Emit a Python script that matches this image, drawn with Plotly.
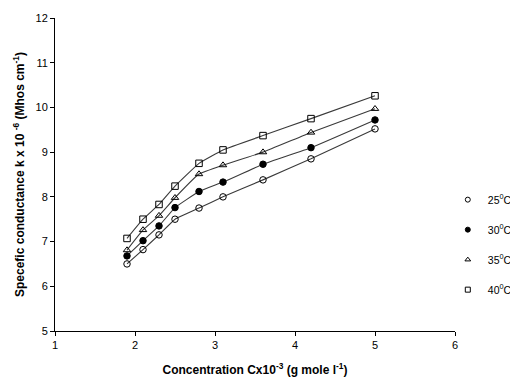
import plotly.graph_objects as go

conc = [1.9, 2.1, 2.3, 2.5, 2.8, 3.1, 3.6, 4.2, 5.0]
k25 = [6.50, 6.82, 7.15, 7.50, 7.75, 8.00, 8.38, 8.85, 9.52]
k30 = [6.68, 7.02, 7.35, 7.76, 8.12, 8.33, 8.73, 9.10, 9.72]
k35 = [6.81, 7.26, 7.58, 7.98, 8.51, 8.71, 9.00, 9.44, 9.97]
k40 = [7.07, 7.50, 7.83, 8.24, 8.75, 9.05, 9.37, 9.75, 10.26]

series = [
    ("25<sup>0</sup>C", k25, "circle-open"),
    ("30<sup>0</sup>C", k30, "circle"),
    ("35<sup>0</sup>C", k35, "triangle-up-open"),
    ("40<sup>0</sup>C", k40, "square-open"),
]

fig = go.Figure()
for i, (name, vals, sym) in enumerate(series):
    fig.add_trace(go.Scatter(
        x=conc, y=vals, name=name, mode="lines+markers",
        line=dict(color="#3a3a3a", width=1.1, shape="spline", smoothing=0.3),
        marker=dict(symbol=sym, size=6.5, color="black", line=dict(color="black", width=1)),
        showlegend=False,
    ))
for i, (name, vals, sym) in enumerate(series):
    fig.add_trace(go.Scatter(
        x=[None], y=[None], name=name, mode="markers",
        marker=dict(symbol=sym, size=5, color="black", line=dict(color="black", width=1)),
        legendgroup=f"g{i}", showlegend=True,
    ))

font = "Liberation Sans, Arial, sans-serif"
fig.update_layout(
    width=510, height=377,
    margin=dict(l=47, r=63, t=10, b=54, autoexpand=False),
    paper_bgcolor="white", plot_bgcolor="white",
    font=dict(family=font, size=11, color="black"),
    showlegend=True,
    legend=dict(x=0.982, y=0.466, xanchor="left", yanchor="top",
                tracegroupgap=11, font=dict(size=10.5),
                bgcolor="rgba(0,0,0,0)", itemwidth=30),
    xaxis=dict(range=[1, 6], tickvals=[1, 2, 3, 4, 5, 6], showgrid=False,
               showline=True, linecolor="black", linewidth=1,
               ticks="outside", ticklen=4, tickcolor="black", zeroline=False,
               title=dict(text="<b>Concentration Cx10<sup>-3</sup> (g mole l<sup>-1</sup>)</b>",
                          font=dict(size=12), standoff=15)),
    yaxis=dict(range=[5, 12], tickvals=[5, 6, 7, 8, 9, 10, 11, 12], showgrid=False,
               showline=True, linecolor="black", linewidth=1,
               ticks="outside", ticklen=4, tickcolor="black", zeroline=False,
               title=dict(text="<b>Specefic conductance k x 10 <sup>-6</sup> (Mhos cm<sup>-1</sup>)</b>",
                          font=dict(size=12), standoff=8)),
)
fig.write_html("out.html")
